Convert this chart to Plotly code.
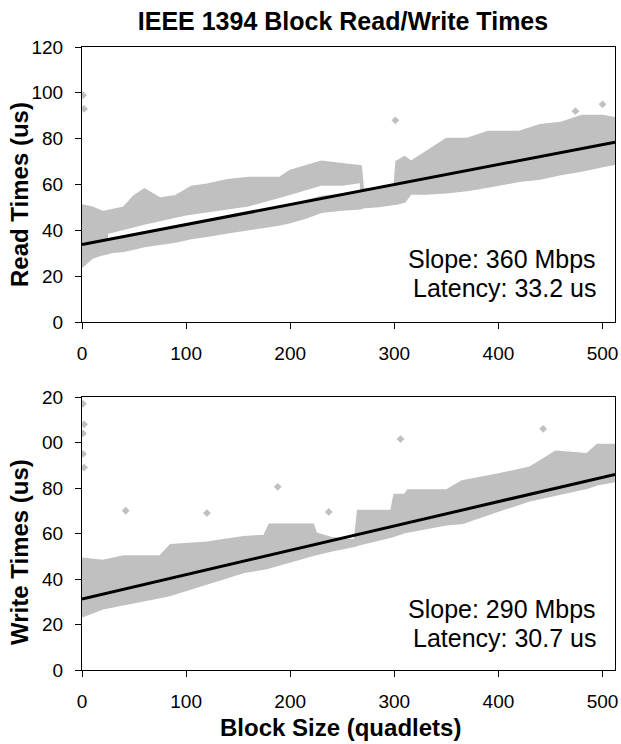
import plotly.graph_objects as go
from plotly.subplots import make_subplots

# ---- data ----
read_x  = [0, 10, 20, 30, 40, 50, 60, 75, 90, 105, 120, 140, 160, 175, 190, 200, 215, 230, 250, 268,
           270, 285, 300, 302, 310, 316, 330, 350, 370, 390, 420, 440, 460, 480, 500, 512]
read_hi = [51, 50, 48, 49, 50, 55, 58, 54, 55, 59, 60, 62, 63, 63, 63, 66, 68, 70, 69, 68,
           58, 58, 59, 70, 72, 70, 74, 80, 80, 83, 83, 86, 87, 90, 90, 89]
read_lo = [24, 28, 29.5, 30.5, 31, 32, 33, 34, 35, 36.5, 37.5, 39, 40.5, 41.5, 42.5, 43.5, 45.5, 48, 49, 49.5,
           50, 50.5, 51.5, 51.5, 52.5, 56, 56, 56.5, 57.5, 59, 61.5, 62.5, 64.5, 66, 68, 69]
read_gap_x  = [25, 60, 100, 130, 160, 200, 230, 250, 266]
read_gap_lo = [36.5, 40, 43.5, 46, 48.5, 52, 55.5, 56.5, 58]
read_gap_hi = [38, 42, 46, 48, 50, 55, 59, 59, 60]
read_out_x = [1, 2, 301, 474, 500]
read_out_y = [99, 93, 88, 92, 95]
read_fit_x = [0, 512]
read_fit_y = [33.8, 78.5]

write_x  = [0, 20, 40, 75, 85, 120, 155, 175, 180, 222, 225, 240, 262, 265, 297, 300, 310, 313,
            350, 365, 400, 430, 455, 485, 495, 512]
write_hi = [49, 48, 50, 50, 55, 56, 58.5, 59, 64, 64, 60, 58, 57, 70, 70, 77, 77, 79,
            79, 83, 86, 89, 96, 95, 99, 99]
write_lo = [23.5, 27, 29, 32, 33, 38, 43, 44.5, 45, 50.5, 51, 52.5, 54.5, 55, 58.5, 59, 60.5, 61,
            64, 64.5, 70, 74.5, 77, 80, 81.5, 83]
write_out_x = [1, 2, 1, 1, 2, 42, 120, 188, 237, 306, 443]
write_out_y = [117, 108, 104, 95, 89, 70, 69, 80.5, 69.5, 101.5, 106]
write_fit_x = [0, 512]
write_fit_y = [31.2, 86.0]

y_ticks = [0, 20, 40, 60, 80, 100, 120]
y_ticktext_top = ["0", "20", "40", "60", "80", "100", "120"]
y_ticktext_bot = ["0", "20", "40", "60", "80", "00", "20"]
x_ticks = [0, 100, 200, 300, 400, 500]

GREY = "#c0c0c0"
TICKFONT = dict(family="Liberation Sans, Arial", size=19, color="black")
BOLD = "Liberation Sans, Arial"

fig = make_subplots(rows=2, cols=1)

def band(xs, lo, hi, color, row):
    fig.add_trace(go.Scatter(x=xs + xs[::-1], y=hi + lo[::-1], fill="toself", fillcolor=color,
                             mode="lines", line=dict(color=color, width=2), hoverinfo="skip",
                             showlegend=False), row=row, col=1)

band(read_x, read_lo, read_hi, GREY, 1)
band(read_gap_x, read_gap_lo, read_gap_hi, "white", 1)
fig.add_trace(go.Scatter(x=read_out_x, y=read_out_y, mode="markers",
                         marker=dict(symbol="diamond", size=6, color=GREY), showlegend=False), row=1, col=1)
fig.add_trace(go.Scatter(x=read_fit_x, y=read_fit_y, mode="lines",
                         line=dict(color="black", width=3), showlegend=False), row=1, col=1)

band(write_x, write_lo, write_hi, GREY, 2)
fig.add_trace(go.Scatter(x=write_out_x, y=write_out_y, mode="markers",
                         marker=dict(symbol="diamond", size=6, color=GREY), showlegend=False), row=2, col=1)
fig.add_trace(go.Scatter(x=write_fit_x, y=write_fit_y, mode="lines",
                         line=dict(color="black", width=3), showlegend=False), row=2, col=1)

H_TOP, H_BOT = 47, 74
ph = 744 - H_TOP - H_BOT
top_dom = [(670 - 322) / ph, 1.0]
bot_dom = [0.0, (670 - 397) / ph]

axis_common = dict(showline=True, linecolor="black", linewidth=1, mirror=True,
                   ticks="outside", ticklen=6, tickcolor="black", tickfont=TICKFONT,
                   showgrid=False, zeroline=False, ticklabelstandoff=8, automargin=False)

fig.update_xaxes(range=[0, 512], tickvals=x_ticks, **axis_common)
fig.update_yaxes(range=[0, 120], **axis_common)
fig.update_yaxes(domain=top_dom, tickvals=y_ticks, ticktext=y_ticktext_top, row=1, col=1)
fig.update_yaxes(domain=bot_dom, tickvals=y_ticks, ticktext=y_ticktext_bot, row=2, col=1)

ann_font = dict(family="Liberation Sans, Arial", size=25, color="black")
anns = [
    dict(text="Slope: 360 Mbps", xref="x domain", yref="y domain", x=0.968, y=(322 - 259) / 275),
    dict(text="Latency: 33.2 us", xref="x domain", yref="y domain", x=0.968, y=(322 - 288) / 275),
    dict(text="Slope: 290 Mbps", xref="x2 domain", yref="y2 domain", x=0.968, y=(670 - 609) / 273),
    dict(text="Latency: 30.7 us", xref="x2 domain", yref="y2 domain", x=0.968, y=(670 - 638) / 273),
]
for a in anns:
    fig.add_annotation(showarrow=False, xanchor="right", yanchor="middle", font=ann_font, **a)

title_font = dict(family=BOLD, size=24, color="black")
fig.add_annotation(text="<b>Read Times (us)</b>", textangle=-90, xref="paper", yref="paper",
                   x=(19 - 82) / 533, y=(670 - 195) / ph, showarrow=False,
                   xanchor="center", yanchor="middle", font=title_font)
fig.add_annotation(text="<b>Write Times (us)</b>", textangle=-90, xref="paper", yref="paper",
                   x=(19 - 82) / 533, y=(670 - 552) / ph, showarrow=False,
                   xanchor="center", yanchor="middle", font=title_font)
fig.add_annotation(text="<b>Block Size (quadlets)</b>", xref="paper", yref="paper",
                   x=(340 - 82) / 533, y=(670 - 727) / ph, showarrow=False,
                   xanchor="center", yanchor="middle", font=title_font)

fig.update_layout(
    width=621, height=744,
    margin=dict(l=82, r=6, t=H_TOP, b=H_BOT),
    paper_bgcolor="white", plot_bgcolor="white",
    title=dict(text="<b>IEEE 1394 Block Read/Write Times</b>", x=343 / 621, xanchor="center",
               y=1 - 21 / 744, yanchor="middle", font=dict(family=BOLD, size=25, color="black")),
    showlegend=False,
)

fig.write_html("out.html", config={"displayModeBar": False},
               post_script="document.body.style.margin='0';document.body.style.overflow='hidden';")
